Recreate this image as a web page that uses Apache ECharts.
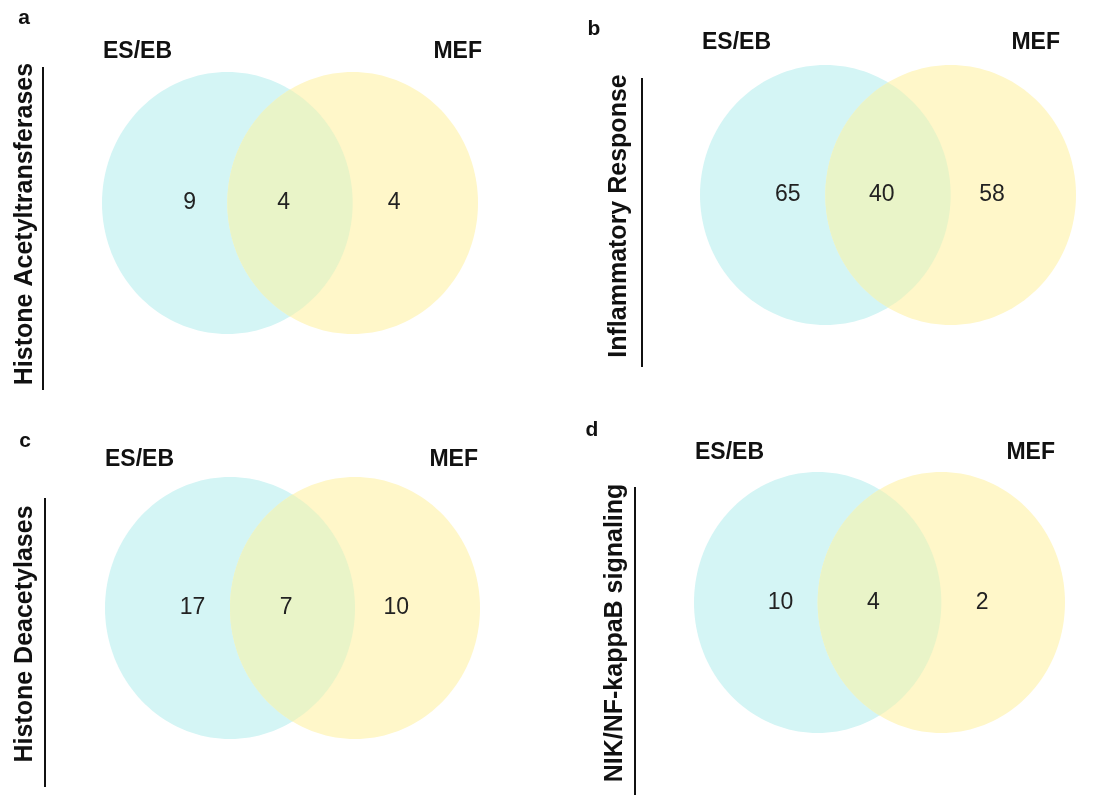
<!DOCTYPE html>
<html>
<head>
<meta charset="utf-8">
<style>
  html, body { margin: 0; padding: 0; background: #ffffff; }
  #chart { width: 1094px; height: 795px; }
</style>
<script src="https://cdn.jsdelivr.net/npm/echarts@6/dist/echarts.min.js"></script>
</head>
<body>
<div id="chart"></div>
<script>
// Gene set overlap counts between ES/EB and MEF for four functional categories
const panelLetters = ['a', 'b', 'c', 'd'];
const categories = [
  'Histone Acetyltransferases',
  'Inflammatory Response',
  'Histone Deacetylases',
  'NIK/NF-kappaB signaling'
];
const setNames = ['ES/EB', 'MEF'];
const esOnly = [9, 65, 17, 10];
const shared = [4, 40, 7, 4];
const mefOnly = [4, 58, 10, 2];

// Panel layout (pixels): plotting box of the two circles, panel letter,
// rotated category title, the rule beside it and the set-name row.
const layout = [
  { grid: { left: 102, top: 72, width: 376, height: 262 }, letter: [24, 18], title: [25, 224], rule: [43, 67, 390], setY: 52, esLeft: 103, mefRight: 482 },
  { grid: { left: 700, top: 65, width: 376, height: 260 }, letter: [594, 29], title: [619, 216], rule: [642, 78, 367], setY: 43, esLeft: 702, mefRight: 1060 },
  { grid: { left: 105, top: 477, width: 375, height: 262 }, letter: [25, 441], title: [25, 634], rule: [45, 498, 787], setY: 460, esLeft: 105, mefRight: 478 },
  { grid: { left: 694, top: 472, width: 371, height: 261 }, letter: [592, 430], title: [615, 633], rule: [635, 487, 795], setY: 453, esLeft: 695, mefRight: 1055 }
];

// Circle geometry in axis units: radius 1, centres at x = 0 and x = 1.
const CIRCLE_CENTERS = [0, 1];
const LABEL_X = [-0.3, 0.45, 1.33];
const COLORS = { es: '#d4f5f5', mef: '#fff7c9', both: '#e9f4c8', text: '#222222' };
const FONT = '"Liberation Sans", Arial, Helvetica, sans-serif';

function ellipsePoints(cx, cy, rx, ry) {
  const pts = [];
  const n = 160;
  for (let i = 0; i < n; i++) {
    const t = (i / n) * Math.PI * 2;
    pts.push([cx + rx * Math.cos(t), cy + ry * Math.sin(t)]);
  }
  return pts;
}

function lensPoints(c1x, c2x, cy, rx, ry) {
  const d = c2x - c1x;
  const a = Math.acos(Math.min(1, d / 2 / rx));
  const pts = [];
  const n = 80;
  for (let i = 0; i <= n; i++) {
    const t = -a + (2 * a * i) / n;
    pts.push([c1x + rx * Math.cos(t), cy + ry * Math.sin(t)]);
  }
  for (let i = 0; i <= n; i++) {
    const t = Math.PI - a + (2 * a * i) / n;
    pts.push([c2x + rx * Math.cos(t), cy + ry * Math.sin(t)]);
  }
  return pts;
}

function renderVenn(params, api) {
  const left = api.coord([CIRCLE_CENTERS[0], 0]);
  const right = api.coord([CIRCLE_CENTERS[1], 0]);
  const size = api.size([1, 1]);
  const rx = size[0], ry = size[1];
  const cy = left[1];
  const counts = [api.value(0), api.value(1), api.value(2)];
  const children = [
    { type: 'polygon', shape: { points: ellipsePoints(left[0], cy, rx, ry) }, style: { fill: COLORS.es } },
    { type: 'polygon', shape: { points: ellipsePoints(right[0], cy, rx, ry) }, style: { fill: COLORS.mef } },
    { type: 'polygon', shape: { points: lensPoints(left[0], right[0], cy, rx, ry) }, style: { fill: COLORS.both } }
  ];
  counts.forEach(function (c, i) {
    const p = api.coord([LABEL_X[i], 0]);
    children.push({
      type: 'text',
      style: {
        text: String(c), x: p[0], y: p[1],
        align: 'center', verticalAlign: 'middle',
        fontSize: 23, fontFamily: FONT, fill: COLORS.text
      }
    });
  });
  return { type: 'group', children: children };
}

const grids = [], xAxes = [], yAxes = [], series = [], graphics = [];
layout.forEach(function (L, i) {
  grids.push(L.grid);
  xAxes.push({ type: 'value', gridIndex: i, min: -1, max: 2, show: false });
  yAxes.push({ type: 'value', gridIndex: i, min: -1, max: 1, show: false });
  series.push({
    type: 'custom',
    name: categories[i],
    xAxisIndex: i,
    yAxisIndex: i,
    clip: false,
    silent: true,
    renderItem: renderVenn,
    encode: { x: 0, y: 1 },
    data: [[esOnly[i], shared[i], mefOnly[i]]]
  });
  graphics.push({
    type: 'text', x: L.letter[0], y: L.letter[1],
    style: { text: panelLetters[i], align: 'center', verticalAlign: 'middle', fontSize: 21, fontWeight: 'bold', fontFamily: FONT, fill: '#111' }
  });
  graphics.push({
    type: 'text', x: L.title[0], y: L.title[1], rotation: Math.PI / 2,
    style: { text: categories[i], align: 'center', verticalAlign: 'middle', fontSize: 25, fontWeight: 'bold', fontFamily: FONT, fill: '#111' }
  });
  graphics.push({
    type: 'line',
    shape: { x1: L.rule[0], y1: L.rule[1], x2: L.rule[0], y2: L.rule[2] },
    style: { stroke: '#111', lineWidth: 2 }
  });
  graphics.push({
    type: 'text', x: L.esLeft, y: L.setY,
    style: { text: setNames[0], align: 'left', verticalAlign: 'middle', fontSize: 23, fontWeight: 'bold', fontFamily: FONT, fill: '#111' }
  });
  graphics.push({
    type: 'text', x: L.mefRight, y: L.setY,
    style: { text: setNames[1], align: 'right', verticalAlign: 'middle', fontSize: 23, fontWeight: 'bold', fontFamily: FONT, fill: '#111' }
  });
});

const chart = echarts.init(document.getElementById('chart'), null, { renderer: 'canvas' });
chart.setOption({
  backgroundColor: '#ffffff',
  animation: false,
  grid: grids,
  xAxis: xAxes,
  yAxis: yAxes,
  series: series,
  graphic: graphics
});
</script>
</body>
</html>
